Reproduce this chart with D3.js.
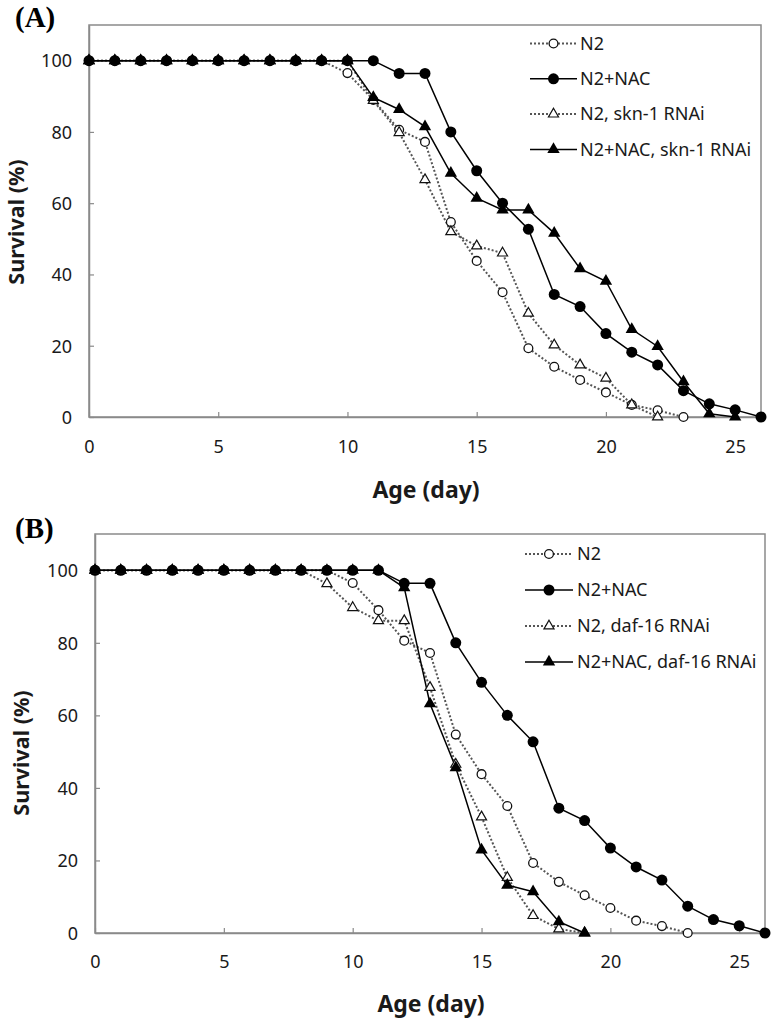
<!DOCTYPE html>
<html>
<head>
<meta charset="utf-8">
<script src="https://cdn.jsdelivr.net/npm/d3@7"></script>
<style>
  html, body { margin: 0; padding: 0; background: #fff; }
  svg { display: block; }
</style>
</head>
<body>
<svg id="chart" width="774" height="1025"></svg>
<script>
// ---------------- DATA ----------------
const xTicks = [0, 5, 10, 15, 20, 25];
const yTicks = [0, 20, 40, 60, 80, 100];

// survival (%) by day, starting at day 0
const n2 = [100, 100, 100, 100, 100, 100, 100, 100, 100, 100, 96.5, 89, 80.6, 77.2, 54.7, 43.8, 35, 19.3, 14.1, 10.4, 6.9, 3.4, 1.9, 0];
const n2Nac = [100, 100, 100, 100, 100, 100, 100, 100, 100, 100, 100, 100, 96.4, 96.4, 80, 69.1, 60, 52.7, 34.4, 31, 23.4, 18.2, 14.6, 7.4, 3.7, 2, 0];
const n2Skn1 = [100, 100, 100, 100, 100, 100, 100, 100, 100, 100, 100, 88.8, 79.8, 66.6, 52, 48, 46, 29.1, 20.2, 14.6, 10.9, 3.4, 0];
const n2NacSkn1 = [100, 100, 100, 100, 100, 100, 100, 100, 100, 100, 100, 89.7, 86.3, 81.5, 68.4, 61.4, 58.1, 58.1, 51.6, 41.6, 38.1, 24.6, 19.8, 9.9, 0.9, 0];
const n2Daf16 = [100, 100, 100, 100, 100, 100, 100, 100, 100, 96.3, 89.7, 86.1, 86.1, 67.7, 46.5, 32, 15.3, 4.8, 1.1, 0];
const n2NacDaf16 = [100, 100, 100, 100, 100, 100, 100, 100, 100, 100, 100, 100, 95.2, 63.2, 45.6, 22.9, 13.2, 11.4, 3.1, 0];

const seriesNamesA = ["N2", "N2+NAC", "N2, skn-1 RNAi", "N2+NAC, skn-1 RNAi"];
const seriesNamesB = ["N2", "N2+NAC", "N2, daf-16 RNAi", "N2+NAC, daf-16 RNAi"];
const markerKinds = ["openCircle", "filledCircle", "openTriangle", "filledTriangle"];

// ---------------- DRAW ----------------
const svg = d3.select("#chart");
const AXIS_COLOR = "#8a8a8a";
const TEXT_COLOR = "#1a1a1a";
const FONT = "'Noto Sans', 'Open Sans', sans-serif";

function drawMarker(g, kind, cx, cy) {
  if (kind === "openCircle") {
    g.append("circle").attr("cx", cx).attr("cy", cy).attr("r", 4.4)
      .attr("fill", "#fff").attr("stroke", "#111").attr("stroke-width", 1.3);
  } else if (kind === "filledCircle") {
    g.append("circle").attr("cx", cx).attr("cy", cy).attr("r", 5.5)
      .attr("fill", "#000");
  } else if (kind === "openTriangle") {
    g.append("path").attr("d", d3.symbol().type(d3.symbolTriangle).size(44)())
      .attr("transform", `translate(${cx},${cy})`)
      .attr("fill", "#fff").attr("stroke", "#111").attr("stroke-width", 1.2);
  } else {
    g.append("path").attr("d", d3.symbol().type(d3.symbolTriangle).size(66)())
      .attr("transform", `translate(${cx},${cy})`)
      .attr("fill", "#000");
  }
}

function lineStyle(sel, kind) {
  if (kind.startsWith("open")) {
    sel.attr("stroke", "#555").attr("stroke-width", 2).attr("stroke-dasharray", "2,2");
  } else {
    sel.attr("stroke", "#000").attr("stroke-width", 1.5);
  }
  return sel;
}

function drawPanel(cfg) {
  const { left, top, right, bottom, series, names, label, labelY, yTitleX, yTitleY, xTitleY, tickLabelY, yLabelEnd, legend } = cfg;
  const x = d3.scaleLinear().domain([0, 26]).range([left, right]);
  const y = d3.scaleLinear().domain([0, 110]).range([bottom, top]);
  const g = svg.append("g");

  // plot frame (top/right)
  g.append("rect").attr("x", left).attr("y", top).attr("width", right - left).attr("height", bottom - top)
    .attr("fill", "none").attr("stroke", AXIS_COLOR).attr("stroke-width", 1.5);

  // x axis
  const xAxis = g.append("g").attr("transform", `translate(0,${bottom})`)
    .call(d3.axisBottom(x).tickValues(xTicks).tickSize(-5).tickSizeOuter(0).tickFormat(d3.format("d")));
  xAxis.select(".domain").attr("stroke", AXIS_COLOR).attr("stroke-width", 1.5);
  xAxis.selectAll(".tick line").attr("stroke", AXIS_COLOR).attr("stroke-width", 1.2);
  xAxis.selectAll(".tick text").attr("y", tickLabelY - bottom).attr("dy", "0.35em")
    .attr("font-family", FONT).attr("font-size", 18).attr("fill", TEXT_COLOR);

  // y axis
  const yAxis = g.append("g").attr("transform", `translate(${left},0)`)
    .call(d3.axisLeft(y).tickValues(yTicks).tickSize(-5).tickSizeOuter(0).tickFormat(d3.format("d")));
  yAxis.select(".domain").attr("stroke", AXIS_COLOR).attr("stroke-width", 1.5);
  yAxis.selectAll(".tick line").attr("stroke", AXIS_COLOR).attr("stroke-width", 1.2);
  yAxis.selectAll(".tick text").attr("x", yLabelEnd - left).attr("dy", "0.35em")
    .attr("font-family", FONT).attr("font-size", 18).attr("fill", TEXT_COLOR);

  // axis titles
  g.append("text").attr("x", (left + right) / 2 + 1).attr("y", xTitleY).attr("dy", "0.35em")
    .attr("text-anchor", "middle").attr("font-family", FONT).attr("font-weight", "bold")
    .attr("font-size", 23).attr("fill", TEXT_COLOR).text("Age (day)");
  g.append("text").attr("transform", `translate(${yTitleX},${yTitleY}) rotate(-90)`).attr("dy", "0.35em")
    .attr("text-anchor", "middle").attr("font-family", FONT).attr("font-weight", "bold")
    .attr("font-size", 21.5).attr("fill", TEXT_COLOR).text("Survival (%)");

  // panel label
  g.append("text").attr("x", 15).attr("y", labelY).attr("font-family", "'Liberation Serif', 'Times New Roman', serif")
    .attr("font-weight", "bold").attr("font-size", 29).attr("fill", "#000").text(label);

  // lines
  const line = d3.line().x((d, i) => x(i)).y(d => y(d));
  series.forEach((vals, si) => {
    lineStyle(g.append("path").datum(vals).attr("d", line).attr("fill", "none"), markerKinds[si]);
  });
  // markers
  series.forEach((vals, si) => {
    const mg = g.append("g");
    vals.forEach((v, i) => drawMarker(mg, markerKinds[si], x(i), y(v)));
  });

  // legend
  names.forEach((name, i) => {
    const ly = legend.y0 + i * legend.dy;
    const lg = g.append("g");
    lineStyle(lg.append("line").attr("x1", legend.x1).attr("x2", legend.x2).attr("y1", ly).attr("y2", ly), markerKinds[i]);
    drawMarker(lg, markerKinds[i], (legend.x1 + legend.x2) / 2, ly);
    lg.append("text").attr("x", legend.tx).attr("y", ly).attr("dy", "0.35em")
      .attr("font-family", FONT).attr("font-size", 18).attr("fill", TEXT_COLOR).text(name);
  });
}

drawPanel({
  left: 89, top: 25, right: 761, bottom: 417,
  series: [n2, n2Nac, n2Skn1, n2NacSkn1], names: seriesNamesA,
  label: "(A)", labelY: 27, yTitleX: 16, yTitleY: 222, xTitleY: 490, tickLabelY: 447, yLabelEnd: 72,
  legend: { x1: 530, x2: 577, tx: 580, y0: 43.5, dy: 35.3 }
});

drawPanel({
  left: 95, top: 534, right: 765, bottom: 933,
  series: [n2, n2Nac, n2Daf16, n2NacDaf16], names: seriesNamesB,
  label: "(B)", labelY: 538, yTitleX: 21, yTitleY: 753, xTitleY: 1004, tickLabelY: 962, yLabelEnd: 78,
  legend: { x1: 525, x2: 573, tx: 577, y0: 554, dy: 36 }
});
</script>
</body>
</html>
